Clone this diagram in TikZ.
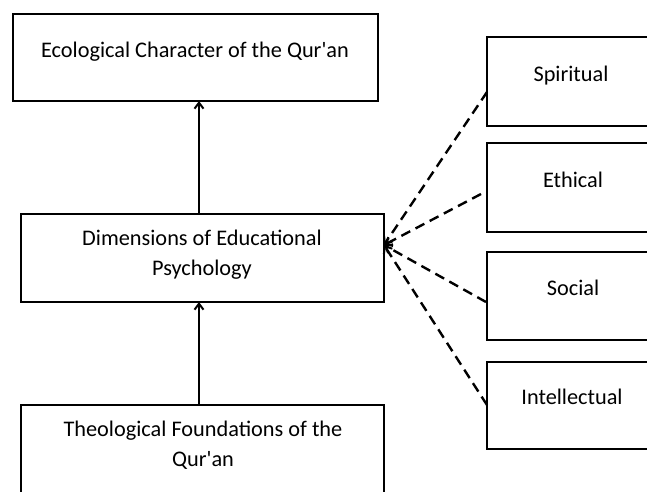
\documentclass[tikz,border=0pt]{standalone}
\usepackage{fontspec}
\setmainfont{Carlito}
\usetikzlibrary{arrows.meta}
\begin{document}
\begin{tikzpicture}[x=1pt,y=-1pt,
  box/.style={draw,line width=1.4pt,anchor=north west,inner sep=0pt,outer sep=0pt},
  lbl/.style={font=\fontsize{22.3}{30}\selectfont,align=center,inner sep=0pt,anchor=base},
  solidarrow/.style={line width=2.8pt,-{Straight Barb[length=6pt,width=9pt,line width=2pt]}},
  dasharrow/.style={line width=2.4pt,dash pattern=on 10pt off 6pt,-{Straight Barb[length=6pt,width=10pt,line width=2pt]}}]
\useasboundingbox (0,0) rectangle (647,491);
\clip (0,0) rectangle (647,491);
% main column
\node[box,minimum width=365pt,minimum height=87pt] (eco) at (13,14) {};
\node[lbl] (ecot) at (195,57) {Ecological Character of the Qur\textquotesingle an};
\node[box,minimum width=363pt,minimum height=88pt] (dim) at (21,214) {};
\node[lbl] (dimt) at (202,275) {Dimensions of Educational\\Psychology};
\node[box,minimum width=363pt,minimum height=100pt] (theo) at (21,405) {};
\node[lbl] (theot) at (203,466) {Theological Foundations of the\\Qur\textquotesingle an};
% right column
\node[box,minimum width=170pt,minimum height=89pt] (spi) at (487,37) {};
\node[lbl] (spit) at (571,81) {Spiritual};
\node[box,minimum width=170pt,minimum height=89pt] (eth) at (487,143) {};
\node[lbl] (etht) at (573,187) {Ethical};
\node[box,minimum width=170pt,minimum height=88pt] (soc) at (487,252) {};
\node[lbl] (soct) at (573,295) {Social};
\node[box,minimum width=170pt,minimum height=87pt] (int) at (487,362) {};
\node[lbl] (intt) at (572,404) {Intellectual};
% connectors
\coordinate (hub) at (384,245);
\coordinate (s1) at (487,92);
\coordinate (s2) at (481,194);
\coordinate (s3) at (486,302);
\coordinate (s4) at (487,405);
\draw[solidarrow] (dim.north -| 199,0) -- (eco.south -| 199,0);
\draw[solidarrow] (theo.north -| 199,0) -- (dim.south -| 199,0);
\draw[dasharrow] (s1) -- (hub);
\draw[dasharrow] (s2) -- (hub);
\draw[dasharrow] (s3) -- (hub);
\draw[dasharrow] (s4) -- (hub);
\end{tikzpicture}
\end{document}
